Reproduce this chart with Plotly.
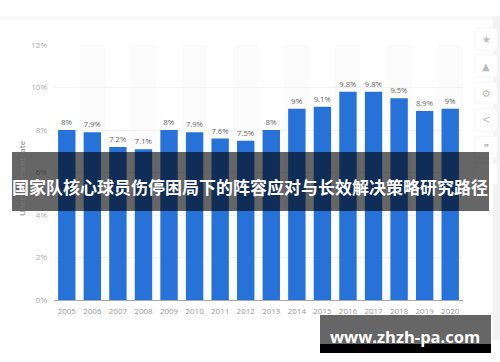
import plotly.graph_objects as go

years = ["2005","2006","2007","2008","2009","2010","2011","2012","2013","2014","2015","2016","2017","2018","2019","2020"]
rates = [8, 7.9, 7.2, 7.1, 8, 7.9, 7.6, 7.5, 8, 9, 9.1, 9.8, 9.8, 9.5, 8.9, 9]
labels = ["8%","7.9%","7.2%","7.1%","8%","7.9%","7.6%","7.5%","8%","9%","9.1%","9.8%","9.8%","9.5%","8.9%","9%"]
y_ticks = [0, 2, 4, 6, 8, 10, 12]
y_tick_labels = ["0%","2%","4%","6%","8%","10%","12%"]
y_title = "Unemployment rate"
banner_text = "国家队核心球员伤停困局下的阵容应对与长效解决策略研究路径"
watermark_text = "www.zhzh-pa.com"
icons = ["★", "▲", "⚙", "<", "❞"]

W, H = 500, 362
L, R, T, B = 54, 37, 45, 62
pw, ph = W - L - R, H - T - B

def px(x): return (x - L) / pw
def py(y): return (H - B - y) / ph

fig = go.Figure(go.Bar(x=years, y=rates, text=labels, textposition="outside",
                       textfont=dict(size=8, color="#666", family="Open Sans"),
                       cliponaxis=False,
                       marker=dict(color="#2672d8", line=dict(width=0)), width=0.68))

shapes = []
for i in range(1, len(years), 2):
    shapes.append(dict(type="rect", xref="x", yref="paper", x0=i-0.5, x1=i+0.5, y0=0, y1=1,
                       fillcolor="#fbfbfb", line_width=0, layer="below"))
shapes.append(dict(type="rect", xref="paper", yref="paper", x0=px(0), x1=px(500), y0=py(20), y1=py(16),
                   fillcolor="#f8f8f8", line_width=0, layer="below"))
shapes.append(dict(type="rect", xref="paper", yref="paper", x0=px(493), x1=px(500), y0=py(340), y1=py(16),
                   fillcolor="#f3f3f3", line_width=0, layer="below"))
for k in range(6):
    yc = 39 + k * 27
    shapes.append(dict(type="rect", xref="paper", yref="paper", x0=px(475), x1=px(497), y0=py(yc+11), y1=py(yc-11),
                       fillcolor="#ffffff", line=dict(color="#f5f5f5", width=1), layer="below"))
shapes.append(dict(type="rect", xref="paper", yref="paper", x0=px(12), x1=px(489), y0=py(211), y1=py(152),
                   fillcolor="rgba(0,0,0,0.6)", line_width=0))
shapes.append(dict(type="rect", xref="paper", yref="paper", x0=px(320), x1=px(491), y0=py(344), y1=py(315),
                   fillcolor="#666666", line_width=0))
shapes.append(dict(type="rect", xref="paper", yref="paper", x0=px(320), x1=px(491), y0=py(353), y1=py(344),
                   fillcolor="#000000", line_width=0))

def note(text, x, y, **kw):
    return dict(text=text, xref="paper", yref="paper", x=px(x), y=py(y), showarrow=False,
                xanchor="center", yanchor="middle", **kw)

ann = [
    note(y_title, 22, 178, textangle=-90, font=dict(size=8, color="#777", family="Open Sans")),
]
for k, ic in enumerate(icons):
    ann.append(note(ic, 486, 39 + k * 27, font=dict(size=10, color="#bbb", family="DejaVu Sans")))
ann.append(note(banner_text, 250, 186,
                font=dict(size=17, color="white", family="Noto Sans CJK SC", weight="bold")))
ann.append(note(watermark_text, 405, 336,
                font=dict(size=16.5, color="white", family="Open Sans", weight="bold")))

fig.update_layout(
    width=W, height=H, margin=dict(l=L, r=R, t=T, b=B, pad=0),
    paper_bgcolor="white", plot_bgcolor="rgba(0,0,0,0)", showlegend=False,
    shapes=shapes, annotations=ann,
    xaxis=dict(type="category", range=[-0.5, 15.5], showgrid=False, ticks="", showline=True,
               linecolor="#aaa", linewidth=1, ticklabelstandoff=3,
               tickfont=dict(size=8, color="#999", family="Open Sans")),
    yaxis=dict(range=[0, 12], tickvals=y_ticks, ticktext=y_tick_labels, gridcolor="#f2f2f2", gridwidth=1,
               zeroline=False, ticks="", ticklabelstandoff=6,
               tickfont=dict(size=8, color="#aaa", family="Open Sans")),
)
fig.write_html("out.html", config=dict(displayModeBar=False),
               post_script="document.body.style.margin='0';")
